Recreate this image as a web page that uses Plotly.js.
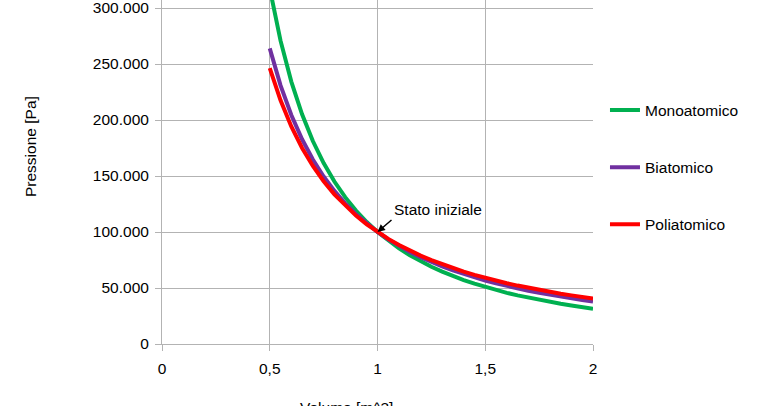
<!DOCTYPE html>
<html>
<head>
<meta charset="utf-8">
<script src="https://cdn.plot.ly/plotly-3.0.1.min.js"></script>
<style>
html,body{margin:0;padding:0;width:774px;height:406px;overflow:hidden;background:#fff;}
#chart{position:absolute;left:0;top:-60px;width:774px;height:480px;}
</style>
</head>
<body>
<div id="chart"></div>
<script>
// Volume [m^3]
const volume = [0.5,0.55,0.6,0.65,0.7,0.75,0.8,0.85,0.9,0.95,1,1.05,1.1,1.15,1.2,1.25,1.3,1.35,1.4,1.45,1.5,1.55,1.6,1.65,1.7,1.75,1.8,1.85,1.9,1.95,2];
// Pressione [Pa]
const monoatomico = [317480,270850,234290,205030,181200,161520,145050,131110,119200,108930,100000,92190,85310,79220,73800,68940,64580,60640,57080,53830,50880,48170,45690,43400,41300,39350,37540,35870,34310,32860,31500];
const biatomico = [263900,230940,204450,182780,164760,149590,136670,125550,115890,107450,100000,93400,87510,82230,77470,73170,69260,65700,62430,59440,56690,54140,51790,49600,47570,45680,43920,42260,40710,39260,37890];
const poliatomico = [246230,217530,194270,175070,158990,145350,133650,123530,114680,106900,100000,93850,88350,83390,78900,74820,71100,67700,64570,61690,59030,56570,54280,52150,50170,48310,46570,44940,43410,41970,40610];
const seriesNames = ["Monoatomico","Biatomico","Poliatomico"];
const xTitle = "Volume [m^3]";
const yTitle = "Pressione [Pa]";
const noteText = "Stato iniziale";
const noteX = 1, noteY = 100000;

const colors = ["#00B050","#7030A0","#FF0000"];
const ys = [monoatomico, biatomico, poliatomico];
const FONT = "Liberation Sans, Arial, sans-serif";
const traces = ys.map((y,i)=>({
  x: volume, y: y, type: "scatter", mode: "lines", name: seriesNames[i],
  legendgroup: "g"+i,
  line: {color: colors[i], width: 4},
  hoverinfo: "skip"
}));
const grid = "#B3B3B3";
const layout = {
  width: 774, height: 480,
  margin: {l:162, r:181, t:12, b:76, pad:0},
  paper_bgcolor: "#fff", plot_bgcolor: "#fff",
  separators: ",.",
  font: {family: FONT, size: 15.5, color: "#000"},
  showlegend: true,
  legend: {x: 1.0278, xanchor: "left", y: 0.4505, yanchor: "middle",
    tracegroupgap: 34, font: {family: FONT, size: 15.5, color: "#000"}, bgcolor: "rgba(0,0,0,0)"},
  xaxis: {range: [0,2], tick0: 0, dtick: 0.5, showgrid: true, gridcolor: grid, gridwidth: 1,
    showline: true, linecolor: grid, linewidth: 1, ticks: "outside", ticklen: 6, tickcolor: grid,
    ticklabelstandoff: 4, zeroline: false, fixedrange: true},
  yaxis: {range: [0,350000], tick0: 0, dtick: 50000, tickformat: ",.0f", showgrid: true, gridcolor: grid, gridwidth: 1,
    showline: true, linecolor: grid, linewidth: 1, ticks: "outside", ticklen: 6, tickcolor: grid,
    ticklabelstandoff: 3, zeroline: false, fixedrange: true},
  annotations: [
    {x: noteX, y: noteY, xref: "x", yref: "y", text: noteText, showarrow: true,
     ax: 14, ay: -12, xanchor: "left", yanchor: "bottom", arrowhead: 2, arrowsize: 1, arrowwidth: 1.5,
     arrowcolor: "#000", standoff: 0, font: {family: FONT, size: 15.5, color: "#000"}},
    {xref: "paper", yref: "paper", x: (346-162)/431, y: -0.162, text: xTitle, showarrow: false,
     xanchor: "center", yanchor: "middle", font: {family: FONT, size: 15.5, color: "#000"}},
    {xref: "paper", yref: "paper", x: (30-162)/431, y: (404-207)/392, text: yTitle, showarrow: false,
     textangle: -90, xanchor: "center", yanchor: "middle", font: {family: FONT, size: 15.5, color: "#000"}}
  ]
};
Plotly.newPlot("chart", traces, layout, {staticPlot: true, displayModeBar: false});
</script>
</body>
</html>
